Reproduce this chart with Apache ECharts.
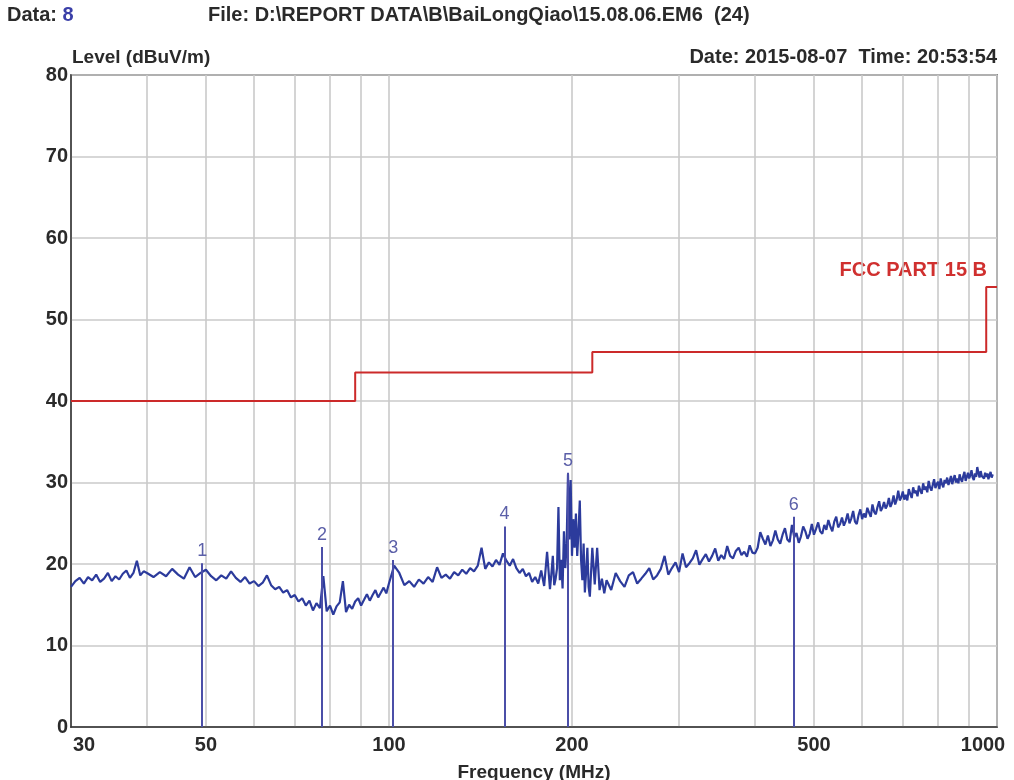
<!DOCTYPE html>
<html><head><meta charset="utf-8">
<script src="https://cdn.jsdelivr.net/npm/echarts@6/dist/echarts.min.js"></script>
<style>html,body{margin:0;padding:0;background:#fff}#c{width:1014px;height:780px}</style>
</head><body><div id="c"></div>
<script>
// ---- data ----
const traceFreq = [
30,30.5,31,31.5,32,32.5,33,33.5,34,34.5,35,35.5,36,36.5,37,37.5,38,38.5,39,39.5,
40,41,42,43,44,45,46,47,48,49,50,51,52,53,54,55,56,57,58,59,
60,61,62,63,64,65,66,67,68,69,70,71,72,73,74,75,76,77,78,79,
80,81,82,83,84,85,86,87,88,89,90,91,92,93,94,95,96,97,98,99,
100,102,104,106,108,110,112,114,116,118,120,122,124,126,128,130,132,134,136,138,
140,142,144,146,148,150,152,154,156,158,160,162,164,166,168,170,172,174,176,178,
180,182,184,185,186,187,188,189,190,191,192,193,194,195,196,197,198,199,
200,201,202,203,204,205,206,207,208,209,210,211,212,213,214,216,218,220,222,224,226,228,
232,236,240,244,248,252,256,260,264,268,272,276,280,284,288,292,296,300,304,308,
312,316,320,324,328,332,336,340,344,348,352,356,360,364,368,372,376,380,384,388,392,396,
400,404,408,412,416,420,424,428,432,436,440,444,448,452,456,460,464,468,472,476,
480,484,488,492,496,500,504,508,512,516,520,524,528,532,536,540,544,548,552,556,
560,564,568,572,576,580,584,588,592,596,600,604,608,612,616,620,624,628,632,636,
640,644,648,652,656,660,664,668,672,676,680,684,688,692,696,700,704,708,712,716,
720,724,728,732,736,740,744,748,752,756,760,764,768,772,776,780,784,788,792,796,
800,804,808,812,816,820,824,828,832,836,840,844,848,852,856,860,864,868,872,876,
880,884,888,892,896,900,904,908,912,916,920,924,928,932,936,940,944,948,952,956,
960,964,968,972,976,980,984
];
const traceLevel = [
17.2,17.9,18.3,17.6,18.4,18.0,18.7,17.8,18.2,18.9,17.9,18.5,18.1,18.8,19.2,18.3,18.9,20.4,18.6,19.1,
18.9,18.4,19.0,18.5,19.4,18.7,18.2,19.6,18.4,18.9,19.3,18.5,18.0,18.6,18.2,19.1,18.3,17.8,18.4,17.6,
17.9,17.3,17.7,18.6,17.4,16.9,17.2,16.5,16.8,15.9,16.2,15.4,15.8,14.9,15.5,14.3,15.2,14.6,18.5,14.2,
14.9,13.8,14.8,15.3,17.9,14.1,15.0,14.5,15.4,15.8,14.9,15.6,16.3,15.5,16.2,16.8,15.9,16.5,17.1,16.4,
17.6,19.8,18.9,17.4,17.9,17.2,18.1,17.6,18.4,17.8,19.6,18.3,18.7,18.2,19.0,18.6,19.3,18.8,19.5,19.1,
19.8,22.0,19.4,20.2,19.7,20.5,19.9,21.3,20.4,19.8,20.6,19.5,18.9,19.4,18.5,18.9,17.8,18.4,17.6,19.2,
17.3,21.5,16.9,18.8,21.0,17.4,18.2,19.5,27.0,18.0,20.5,17.0,24.0,19.5,22.5,31.0,23.0,30.3,
21.0,25.5,22.0,26.2,21.0,24.0,27.8,20.5,18.0,22.5,16.5,19.0,22.0,17.2,16.0,22.0,17.5,22.0,16.8,18.2,16.4,18.0,
16.8,18.9,17.9,17.2,18.6,19.0,17.6,18.2,18.8,19.5,18.1,18.6,19.4,21.0,18.7,19.5,20.2,19.0,21.3,19.6,
20.1,20.7,21.7,19.9,20.6,21.2,20.3,21.0,21.9,20.4,21.1,20.6,22.2,21.0,20.7,21.6,22.0,21.1,21.5,20.9,22.3,21.4,
21.3,22.0,23.9,23.1,22.4,23.5,22.2,22.9,24.1,23.0,22.5,23.6,24.4,23.0,22.7,24.8,23.3,23.8,22.6,23.4,
24.6,24.0,23.1,23.7,24.9,23.6,24.3,25.1,24.0,23.7,24.8,24.2,25.4,24.6,24.0,25.2,25.8,24.5,24.9,25.7,
24.7,25.3,26.2,25.0,25.6,26.5,25.2,24.9,26.0,26.7,25.5,26.2,25.7,26.9,26.3,25.8,27.3,26.4,26.1,27.0,
27.7,26.5,26.9,27.6,26.8,27.2,28.1,27.0,27.5,28.4,27.3,27.9,29.0,27.8,28.2,28.9,27.9,28.5,27.8,29.2,
28.6,28.1,29.4,28.7,29.0,28.3,29.6,29.0,28.6,29.9,29.1,29.5,28.8,30.2,29.4,29.0,29.7,30.4,29.3,29.8,
30.1,29.2,30.5,29.8,29.4,30.3,29.9,30.6,29.7,30.2,30.8,29.8,30.4,30.9,30.0,30.5,29.9,31.0,30.4,30.1,
30.8,31.3,30.2,30.7,31.2,30.5,30.9,31.5,30.6,30.3,31.1,30.7,31.9,31.2,30.6,31.4,30.8,31.0,30.5,31.2,
30.7,31.1,30.4,30.9,31.3,30.6,31.0
];
const limitFreq  = [30, 88, 88, 216, 216, 960, 960, 1000];
const limitLevel = [40, 40, 43.5, 43.5, 46, 46, 54, 54];
const markerNames = ['1','2','3','4','5','6'];
const markerFreq  = [49.3, 77.6, 101.6, 154.9, 197.0, 463];
const markerLevel = [20.1, 22.1, 20.5, 24.6, 31.2, 25.8];
const xLabelValues = [30, 50, 100, 200, 500, 1000];
const xGridValues  = [30,40,50,60,70,80,90,100,200,300,400,500,600,700,800,900,1000];

const FONT = '"Liberation Sans", Arial, sans-serif';
const TXT = '#2a2a2a';
const chart = echarts.init(document.getElementById('c'));
chart.setOption({
  animation: false,
  backgroundColor: '#ffffff',
  textStyle: { fontFamily: FONT },
  grid: { left: 71, right: 17, top: 75, bottom: 53, show: true, borderColor: '#333', borderWidth: 1.5,
          containLabel: false, outerBoundsMode: 'none' },
  xAxis: {
    type: 'log', logBase: 10, min: 30, max: 1000,
    name: 'Frequency (MHz)', nameLocation: 'middle', nameGap: 36,
    nameTextStyle: { fontSize: 19, fontWeight: 'bold', color: TXT, fontFamily: FONT },
    axisLine: { show: true, lineStyle: { color: '#333', width: 1.5 } },
    axisTick: { show: false, customValues: xGridValues },
    splitLine: { show: true, lineStyle: { color: '#cacaca', width: 1.6 } },
    minorSplitLine: { show: false },
    axisLabel: {
      customValues: xLabelValues,
      fontSize: 20, fontWeight: 'bold', color: TXT, margin: 8, fontFamily: FONT,
      formatter: function (v) {
        if (v === 30) return '{l|30}';
        if (v === 1000) return '{r|1000}';
        return String(v);
      },
      rich: {
        l: { fontSize: 20, fontWeight: 'bold', color: TXT, padding: [0, 0, 0, 26], fontFamily: FONT },
        r: { fontSize: 20, fontWeight: 'bold', color: TXT, padding: [0, 28, 0, 0], fontFamily: FONT }
      }
    }
  },
  yAxis: {
    type: 'value', min: 0, max: 80, interval: 10,
    axisLine: { show: true, lineStyle: { color: '#333', width: 1.5 } },
    axisTick: { show: false },
    splitLine: { show: true, lineStyle: { color: '#cacaca', width: 1.6 } },
    axisLabel: { fontSize: 20, fontWeight: 'bold', color: TXT, margin: 3, fontFamily: FONT }
  },
  graphic: [
    { type: 'text', left: 7, top: 5, style: { text: '{a|Data: }{b|8}', rich: {
        a: { fontSize: 20, fontWeight: 'bold', fill: TXT, fontFamily: FONT },
        b: { fontSize: 20, fontWeight: 'bold', fill: '#3a3fa8', fontFamily: FONT } } } },
    { type: 'text', left: 208, top: 5, style: { text: 'File: D:\\REPORT DATA\\B\\BaiLongQiao\\15.08.06.EM6  (24)', fontSize: 20, fontWeight: 'bold', fill: TXT, fontFamily: FONT } },
    { type: 'text', left: 72, top: 48, style: { text: 'Level (dBuV/m)', fontSize: 19, fontWeight: 'bold', fill: TXT, fontFamily: FONT } },
    { type: 'text', right: 17, top: 47, style: { text: 'Date: 2015-08-07  Time: 20:53:54', fontSize: 20, fontWeight: 'bold', fill: TXT, fontFamily: FONT } },
    { type: 'text', right: 27, top: 260, style: { text: 'FCC PART 15 B', fontSize: 20, fontWeight: 'bold', fill: '#d0302f', fontFamily: FONT } }
  ],
  series: [
    {
      type: 'line', name: 'limit', data: limitFreq.map((f, i) => [f, limitLevel[i]]),
      showSymbol: false, symbol: 'none', lineStyle: { color: '#cc2a2a', width: 2 }, z: 3, silent: true
    },
    {
      type: 'line', name: 'trace', data: traceFreq.map((f, i) => [f, traceLevel[i]]),
      showSymbol: false, symbol: 'none', lineStyle: { color: '#2c3b9c', width: 2.2 }, z: 4, silent: true
    },
    {
      type: 'line', name: 'markers', data: [], silent: true, z: 5,
      markLine: {
        silent: true, symbol: 'none', animation: false,
        lineStyle: { color: '#4b4fa8', width: 2, type: 'solid' },
        label: { show: true, position: 'end', distance: 3, formatter: p => p.name, fontSize: 18, color: '#5b5fa8', fontFamily: FONT },
        data: markerFreq.map((f, i) => [
          { coord: [f, 0], name: markerNames[i] },
          { coord: [f, markerLevel[i]], name: markerNames[i] }
        ])
      }
    }
  ]
});
</script></body></html>
